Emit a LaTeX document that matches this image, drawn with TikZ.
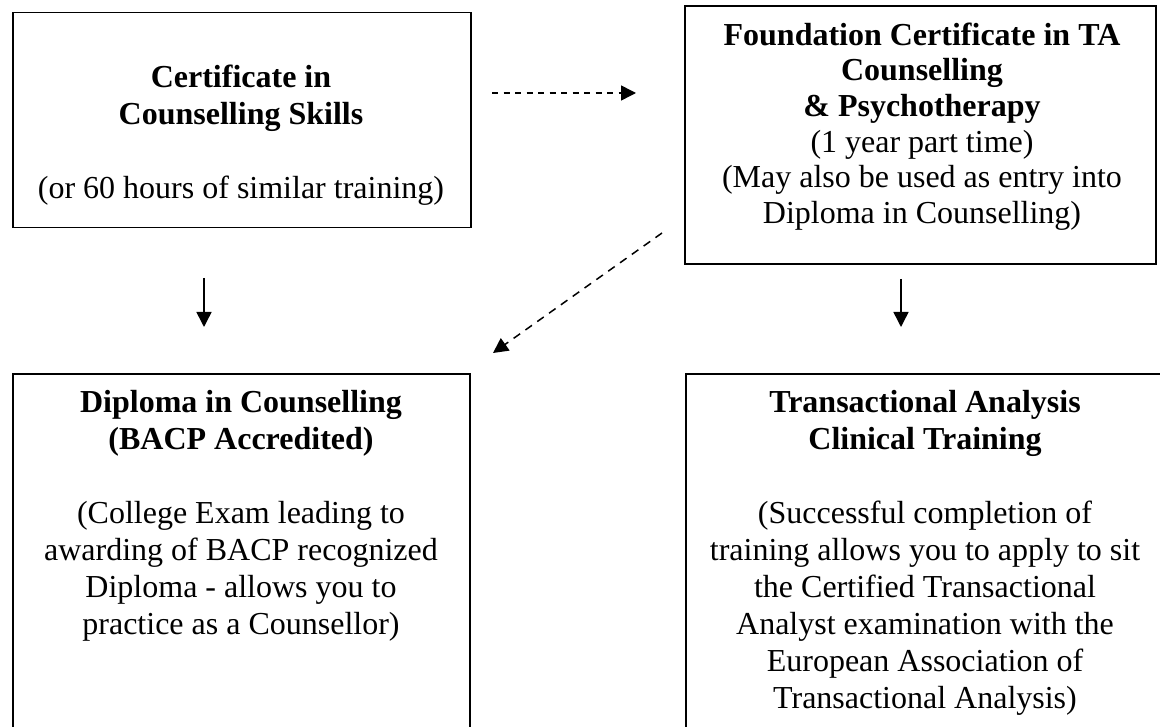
\documentclass[tikz,border=0pt]{standalone}
\usepackage{fontspec}
\setmainfont{Liberation Serif}
\usetikzlibrary{arrows.meta}
\begin{document}
\begin{tikzpicture}[x=1pt,y=-1pt,
  box/.style={draw, line width=1.6pt, inner sep=0pt, anchor=north west},
  txt/.style={align=center, inner sep=0pt, anchor=north, font=\fontsize{32}{37}\selectfont},
  flow/.style={line width=1.5pt, -{Triangle[length=15pt,width=15pt]}},
  dashflow/.style={flow, dash pattern=on 6pt off 5.5pt}]
\useasboundingbox (0,0) rectangle (1160,727);

% boxes (the two lower ones run past the bottom edge)
\node[box, minimum width=458pt, minimum height=215pt] (cert)  at (12,11.7) {};
\node[box, minimum width=471pt, minimum height=258pt] (found) at (684,5) {};
\node[box, minimum width=457pt, minimum height=390pt] (dipl)  at (12,373) {};
\node[box, minimum width=480pt, minimum height=390pt] (ta)    at (685,373) {};

% box texts
\node[txt] (certtxt) at (241,61.1) {\strut\textbf{Certificate in}\\
  \strut\textbf{Counselling Skills}\\ \strut\\
  \strut(or 60 hours of similar training)};
\node[txt, font=\fontsize{32}{35.6}\selectfont] (foundtxt) at (922,20.1)
  {\strut\textbf{Foundation Certificate in TA}\\
   \strut\textbf{Counselling}\\
   \strut\textbf{\& Psychotherapy}\\
   \strut(1 year part time)\\
   \strut(May also be used as entry into\\
   \strut Diploma in Counselling)};
\node[txt] (dipltxt) at (241,386.1)
  {\strut\textbf{Diploma in Counselling}\\
   \strut\textbf{(BACP Accredited)}\\ \strut\\
   \strut(College Exam leading to\\
   \strut awarding of BACP recognized\\
   \strut Diploma - allows you to\\
   \strut practice as a Counsellor)};
\node[txt] (tatxt) at (925,386.1)
  {\strut\textbf{Transactional Analysis}\\
   \strut\textbf{Clinical Training}\\ \strut\\
   \strut(Successful completion of\\
   \strut training allows you to apply to sit\\
   \strut the Certified Transactional\\
   \strut Analyst examination with the\\
   \strut European Association of\\
   \strut Transactional Analysis)};

% connector ends
\coordinate (h1) at (492,93);
\coordinate (h2) at (636,93);
\coordinate (g1) at (662,233);
\coordinate (g2) at (493,353);
\coordinate (v1) at (204,278);
\coordinate (v2) at (204,327);
\coordinate (w1) at (901,279);
\coordinate (w2) at (901,327);

\draw[dashflow] (h1) -- (h2);
\draw[flow, dash pattern=on 8pt off 6.5pt] (g1) -- (g2);
\draw[flow] (v1) -- (v2);
\draw[flow] (w1) -- (w2);
\end{tikzpicture}
\end{document}
